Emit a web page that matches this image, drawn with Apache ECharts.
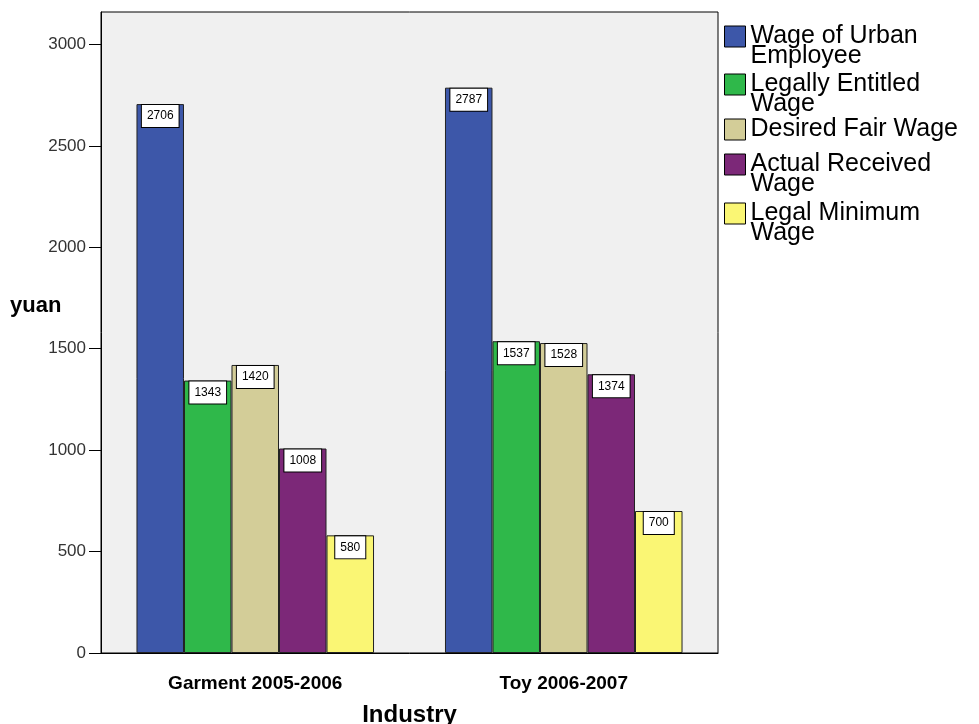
<!DOCTYPE html>
<html>
<head>
<meta charset="utf-8">
<script src="https://cdn.jsdelivr.net/npm/echarts@6/dist/echarts.min.js"></script>
<style>
  html, body { margin: 0; padding: 0; background: #fff; }
  #chart { width: 979px; height: 724px; }
</style>
</head>
<body>
<div id="chart"></div>
<script>
const industries = ['Garment 2005-2006', 'Toy 2006-2007'];
const seriesNames = [
  'Wage of Urban Employee',
  'Legally Entitled Wage',
  'Desired Fair Wage',
  'Actual Received Wage',
  'Legal Minimum Wage'
];
const urbanWage = [2706, 2787];
const entitledWage = [1343, 1537];
const fairWage = [1420, 1528];
const receivedWage = [1008, 1374];
const minimumWage = [580, 700];
const yTicks = [0, 500, 1000, 1500, 2000, 2500, 3000];

const colors = ['#3d57a9', '#2fb84a', '#d3cd98', '#7c2878', '#faf674'];
// legend text split like the original word-wrapped legend;
// a leading empty line keeps the swatch level with the first line
const legendLines = {
  'Wage of Urban Employee': '\nWage of Urban\nEmployee',
  'Legally Entitled Wage': '\nLegally Entitled\nWage',
  'Desired Fair Wage': 'Desired Fair Wage',
  'Actual Received Wage': '\nActual Received\nWage',
  'Legal Minimum Wage': '\nLegal Minimum\nWage'
};
const legendTops = [4, 52, 117, 132, 181];

const chart = echarts.init(document.getElementById('chart'));

const values = [urbanWage, entitledWage, fairWage, receivedWage, minimumWage];

const legends = seriesNames.map((name, i) => ({
  left: 724,
  top: legendTops[i],
  padding: 0,
  orient: 'vertical',
  icon: 'rect',
  itemWidth: 21,
  itemHeight: 21,
  itemGap: 0,
  itemTextGap: 12,
  selectedMode: false,
  data: [name],
  formatter: (n) => legendLines[n],
  itemStyle: { borderColor: '#000', borderWidth: 1 },
  textStyle: {
    fontFamily: 'Liberation Sans, Arial, sans-serif',
    fontSize: 25,
    lineHeight: 20,
    color: '#000'
  }
}));

chart.setOption({
  animation: false,
  color: colors,
  title: {
    text: 'yuan',
    left: 10,
    top: 295,
    padding: 0,
    textStyle: {
      fontFamily: 'Liberation Sans, Arial, sans-serif',
      fontWeight: 'bold', fontSize: 22, color: '#000'
    }
  },
  legend: legends,
  grid: {
    left: 101, right: 261, top: 12, bottom: 71,
    outerBoundsMode: 'none',
    containLabel: false,
    show: true,
    backgroundColor: '#f0f0f0',
    borderColor: '#000',
    borderWidth: 1
  },
  xAxis: {
    type: 'category',
    data: industries,
    name: 'Industry',
    nameLocation: 'middle',
    nameGap: 50,
    nameTextStyle: {
      fontFamily: 'Liberation Sans, Arial, sans-serif',
      fontWeight: 'bold', fontSize: 24, color: '#000'
    },
    axisLine: { lineStyle: { color: '#000', width: 1 } },
    axisTick: { alignWithLabel: true, length: 10, lineStyle: { color: '#000' } },
    axisLabel: {
      margin: 21,
      fontFamily: 'Liberation Sans, Arial, sans-serif',
      fontWeight: 'bold', fontSize: 19, color: '#000'
    }
  },
  yAxis: {
    type: 'value',
    min: 0,
    max: 3160,
    interval: 500,
    axisLine: { show: true, lineStyle: { color: '#000', width: 1 } },
    axisTick: { show: true, length: 12, customValues: yTicks, lineStyle: { color: '#000' } },
    axisLabel: {
      customValues: yTicks,
      formatter: (v) => String(v),
      margin: 15,
      fontFamily: 'Liberation Sans, Arial, sans-serif',
      fontSize: 17, color: '#333'
    },
    splitLine: { show: false }
  },
  series: seriesNames.map((name, i) => ({
    name,
    type: 'bar',
    data: values[i],
    barGap: 0,
    barCategoryGap: '23%',
    itemStyle: { color: colors[i], borderColor: '#222', borderWidth: 1 },
    label: {
      show: true,
      position: 'insideTop',
      distance: 1,
      fontFamily: 'Liberation Sans, Arial, sans-serif',
      fontSize: 12,
      color: '#000',
      backgroundColor: '#fff',
      borderColor: '#000',
      borderWidth: 1,
      padding: [5, 5, 5, 5]
    }
  }))
});
</script>
</body>
</html>
